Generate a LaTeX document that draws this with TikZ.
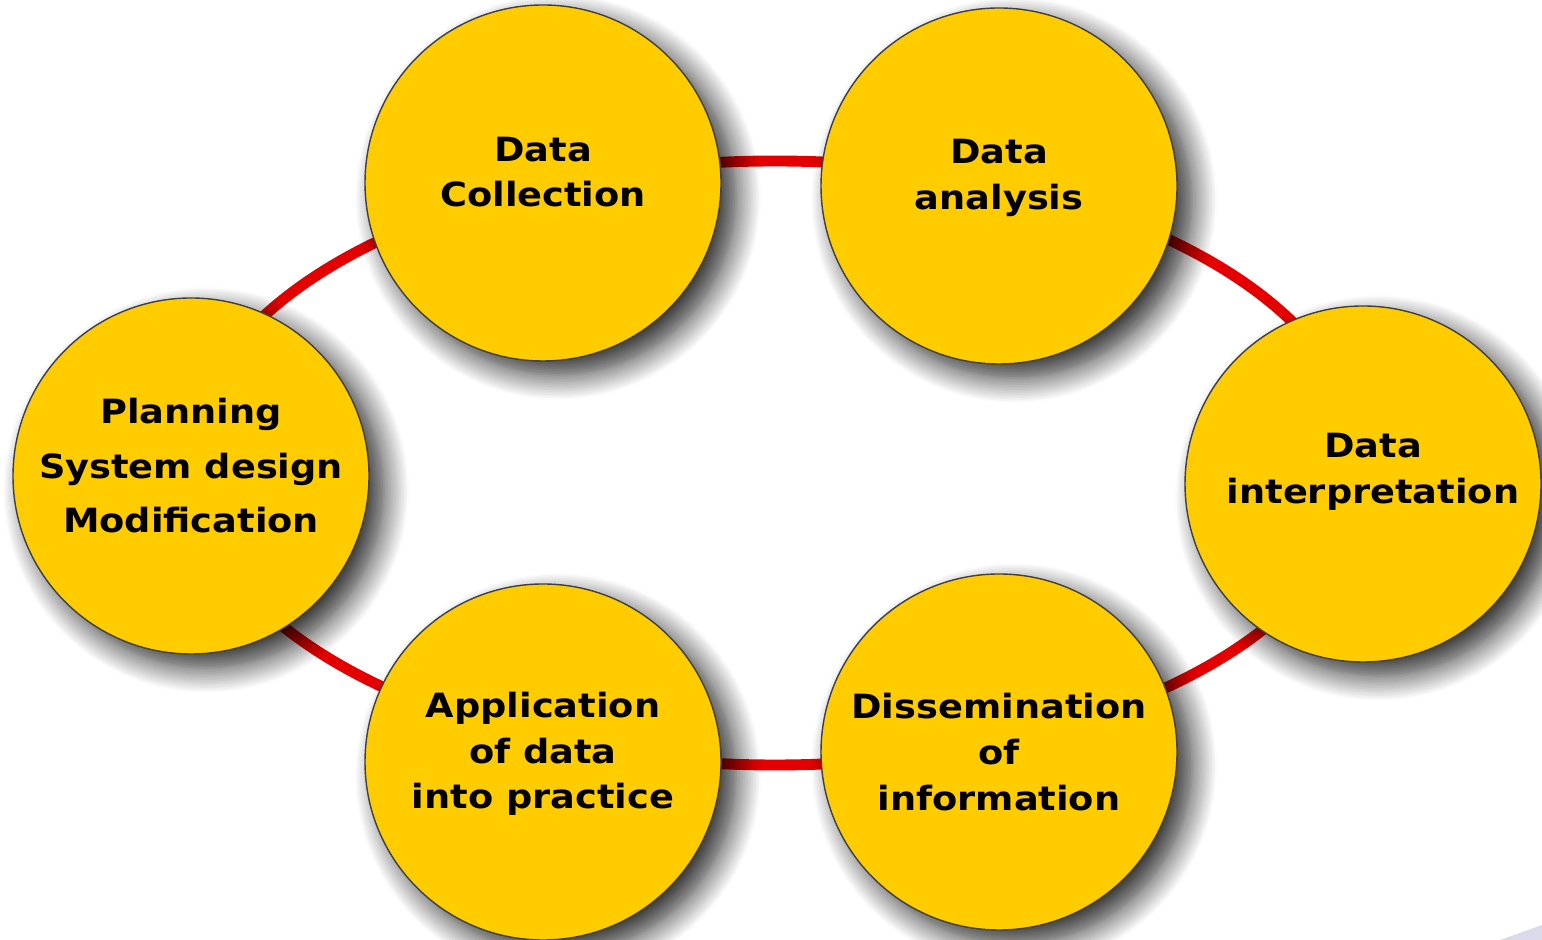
\documentclass[tikz,border=0pt]{standalone}
\usepackage{fontspec}
\setmainfont[FakeStretch=1.1]{DejaVu Sans}
\usepackage{tikz}
\usetikzlibrary{shapes,positioning,shadows.blur}

\definecolor{stageyellow}{RGB}{255,204,0}
\definecolor{ringred}{RGB}{228,0,0}
\definecolor{cornerblue}{RGB}{218,218,234}

\tikzset{
  stage/.style={circle, draw=black!75, line width=0.8pt, fill=stageyellow,
    minimum size=7.12cm, inner sep=0pt,
    blur shadow={shadow xshift=0.3cm, shadow yshift=-0.28cm,
      shadow blur radius=0.5cm, shadow blur steps=16, shadow opacity=85}},
  stagetext/.style={align=center, inner sep=0pt,
    font=\fontsize{19}{26}\selectfont\bfseries},
  ring/.style={draw=ringred, line width=6.2pt}
}

\begin{document}
\begin{tikzpicture}
            \useasboundingbox (0,0) rectangle (30.84,18.8);
            \fill[cornerblue] (30.0,0)--(30.84,0.3)--(30.84,0)--cycle;

            % red cycle behind the stages
            \draw[ring] (15.5,9.54) ellipse [x radius=11.7cm, y radius=6.04cm];

            % the six stages
            \node[stage] (collection) at (10.86,15.14) {};
            \node[stage] (analysis) at (19.98,15.08) {};
            \node[stage] (interpretation) at (27.26,9.12) {};
            \node[stage] (dissemination) at (19.98,3.76) {};
            \node[stage] (application) at (10.86,3.56) {};
            \node[stage] (planning) at (3.82,9.28) {};

            \node[stagetext] (collectionlbl) at ([yshift=0.22cm]collection) {Data\\Collection};
            \node[stagetext] (analysislbl) at ([yshift=0.16cm]analysis) {Data\\analysis};
            \node[stagetext] (interpretationlbl) at ([xshift=0.2cm,yshift=0.24cm]interpretation) {Data\\interpretation};
            \node[stagetext] (disseminationlbl) at ([yshift=0.0cm]dissemination) {Dissemination\\of\\information};
            \node[stagetext] (applicationlbl) at ([yshift=0.16cm]application) {Application\\of data\\into practice};
            \node[stagetext, font=\fontsize{19}{31}\selectfont\bfseries] (planninglbl) at ([yshift=0.2cm]planning) {Planning\\System design\\Modification};
        \end{tikzpicture}
\end{document}
